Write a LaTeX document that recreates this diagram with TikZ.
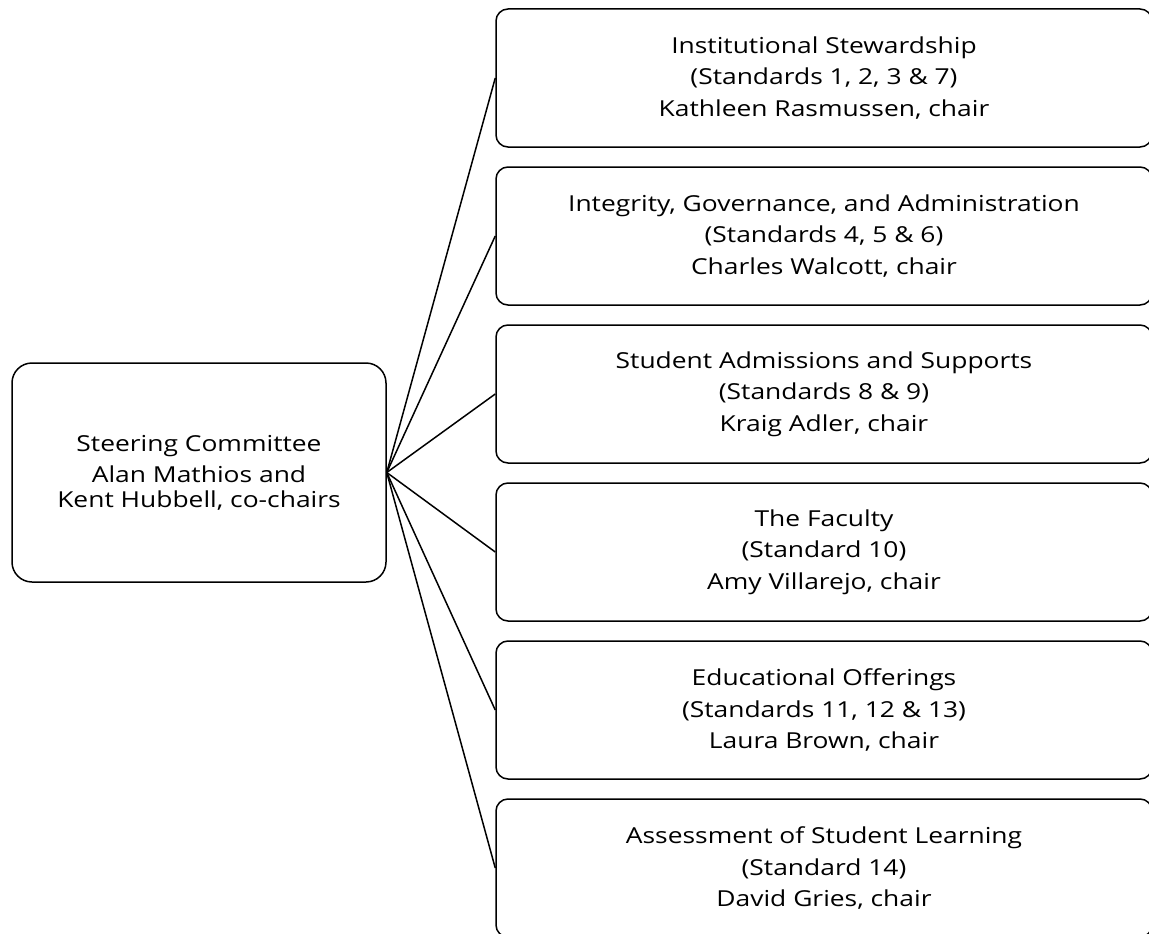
\documentclass[tikz,border=0pt]{standalone}
\usepackage{fontspec}
\setmainfont[FakeStretch=1.2]{Open Sans}
\begin{document}
\begin{tikzpicture}[x=1pt,y=-1pt,
  rbox/.style={draw=black, line width=1.5pt, rounded corners=12pt, minimum width=656pt, minimum height=138pt, align=center, inner sep=0pt, font=\fontsize{22}{31.5}\selectfont},
  lbox/.style={draw=black, line width=1.5pt, rounded corners=20pt, minimum width=374pt, minimum height=219pt, align=center, inner sep=0pt, font=\fontsize{22}{24.5}\selectfont},
  link/.style={draw=black, line width=1.5pt}]
\useasboundingbox (0,0) rectangle (1149,934);
\clip (0,0) rectangle (1149,934);
\fill[white] (0,0) rectangle (1149,934);
\node[lbox] (sc) at (199,472.5) {Steering Committee\\[7pt]Alan Mathios and\\Kent Hubbell, co-chairs};
\node[rbox] (b1) at (824,78) {Institutional Stewardship\\(Standards 1, 2, 3 \& 7)\\Kathleen Rasmussen, chair};
\node[rbox] (b2) at (824,236) {Integrity, Governance, and Administration\\(Standards 4, 5 \& 6)\\Charles Walcott, chair};
\node[rbox] (b3) at (824,394) {Student Admissions and Supports\\(Standards 8 \& 9)\\Kraig Adler, chair};
\node[rbox] (b4) at (824,552) {The Faculty\\(Standard 10)\\Amy Villarejo, chair};
\node[rbox] (b5) at (824,710) {Educational Offerings\\(Standards 11, 12 \& 13)\\Laura Brown, chair};
\node[rbox] (b6) at (824,868) {Assessment of Student Learning\\(Standard 14)\\David Gries, chair};
\coordinate (o) at (sc.east);
\foreach \b in {b1,b2,b3,b4,b5,b6} \draw[link] (o) -- (\b.west);
\end{tikzpicture}
\end{document}
